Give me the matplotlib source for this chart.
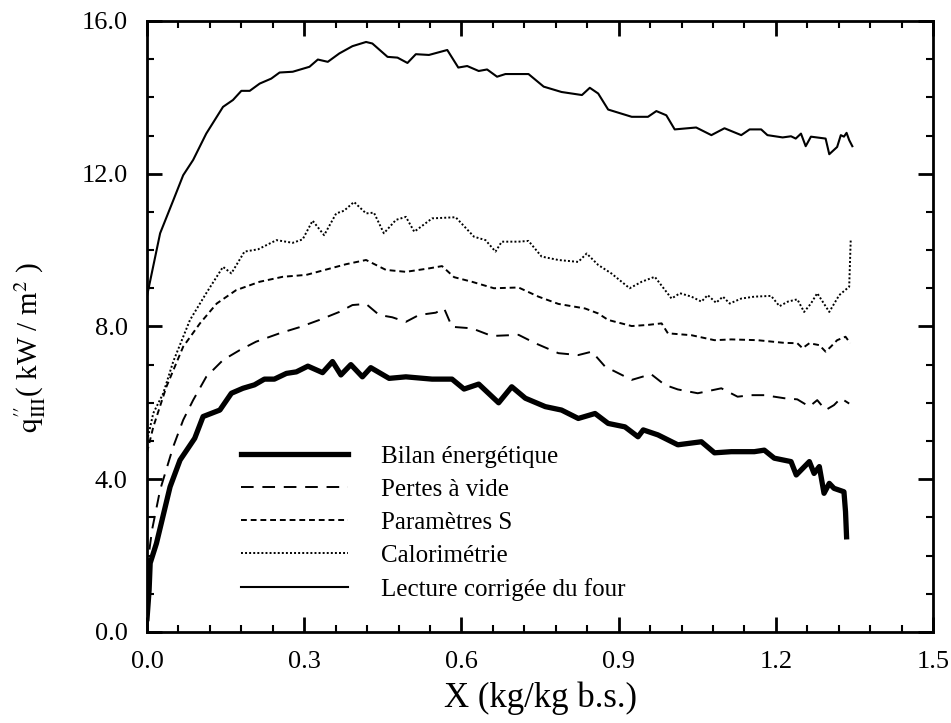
"""
plot.py

Flux de chaleur q''_III en fonction de la teneur en eau X,
comparaison de cinq méthodes d'estimation.
"""

import matplotlib
matplotlib.use("Agg")
import matplotlib.pyplot as plt
import matplotlib.ticker as ticker


# ─────────────────────────────────────────────
# Données
# ─────────────────────────────────────────────

bilan_x = [0.0, 0.004, 0.006, 0.018, 0.044, 0.063, 0.091, 0.107, 0.139, 0.161, 0.183,
           0.205, 0.224, 0.243, 0.266, 0.285, 0.307, 0.335, 0.354, 0.37, 0.389, 0.411,
           0.427, 0.462, 0.494, 0.544, 0.582, 0.605, 0.633, 0.671, 0.696, 0.722, 0.76,
           0.791, 0.823, 0.855, 0.88, 0.912, 0.937, 0.947, 0.975, 1.013, 1.058, 1.083,
           1.115, 1.159, 1.178, 1.197, 1.229, 1.239, 1.264, 1.273, 1.283, 1.292, 1.302,
           1.311, 1.33, 1.333, 1.335]
bilan_y = [0.35, 1.1, 1.8, 2.32, 3.8, 4.5, 5.07, 5.64, 5.81, 6.25, 6.38,
           6.47, 6.62, 6.62, 6.77, 6.81, 6.96, 6.79, 7.08, 6.73, 7.0, 6.68,
           6.92, 6.64, 6.68, 6.62, 6.62, 6.36, 6.49, 6.0, 6.42, 6.12, 5.9,
           5.81, 5.59, 5.72, 5.46, 5.37, 5.11, 5.29, 5.16, 4.9, 4.98, 4.69,
           4.72, 4.72, 4.76, 4.55, 4.46, 4.11, 4.46, 4.15, 4.33, 3.63, 3.89,
           3.76, 3.67, 3.15, 2.49]

pertes_x = [0.0, 0.005, 0.01, 0.025, 0.05, 0.069, 0.088, 0.113, 0.145, 0.177, 0.208,
            0.253, 0.291, 0.329, 0.367, 0.392, 0.418, 0.443, 0.468, 0.494, 0.519, 0.551,
            0.567, 0.582, 0.62, 0.658, 0.709, 0.741, 0.785, 0.823, 0.849, 0.874, 0.925,
            0.962, 0.988, 1.013, 1.051, 1.096, 1.127, 1.153, 1.178, 1.216, 1.241, 1.264,
            1.279, 1.295, 1.311, 1.324, 1.34]
pertes_y = [1.6, 2.2, 2.7, 3.72, 4.85, 5.55, 6.07, 6.68, 7.12, 7.38, 7.6,
            7.82, 7.98, 8.17, 8.38, 8.56, 8.59, 8.3, 8.24, 8.12, 8.3, 8.36,
            8.47, 7.99, 7.95, 7.75, 7.78, 7.56, 7.3, 7.25, 7.34, 6.95, 6.6,
            6.75, 6.47, 6.35, 6.25, 6.38, 6.16, 6.2, 6.2, 6.12, 6.09, 5.9,
            6.07, 5.81, 5.94, 6.12, 5.98]

param_x = [0.0, 0.012, 0.037, 0.069, 0.101, 0.133, 0.17, 0.215, 0.259, 0.304, 0.342,
           0.38, 0.418, 0.456, 0.494, 0.538, 0.563, 0.586, 0.62, 0.662, 0.709, 0.747,
           0.785, 0.836, 0.861, 0.88, 0.925, 0.956, 0.982, 0.994, 1.039, 1.083, 1.115,
           1.165, 1.216, 1.241, 1.251, 1.264, 1.283, 1.295, 1.305, 1.317, 1.333, 1.342]
param_y = [4.7, 5.37, 6.42, 7.47, 8.08, 8.6, 8.95, 9.17, 9.3, 9.35, 9.49,
           9.63, 9.74, 9.48, 9.43, 9.52, 9.58, 9.29, 9.17, 9.0, 9.02, 8.78,
           8.59, 8.47, 8.34, 8.17, 8.01, 8.04, 8.08, 7.82, 7.77, 7.64, 7.66,
           7.64, 7.57, 7.56, 7.43, 7.56, 7.51, 7.34, 7.47, 7.64, 7.73, 7.56]

calo_x = [0.0, 0.012, 0.031, 0.05, 0.082, 0.113, 0.145, 0.161, 0.186, 0.212, 0.247,
          0.278, 0.297, 0.316, 0.338, 0.361, 0.376, 0.395, 0.418, 0.433, 0.452, 0.475,
          0.494, 0.51, 0.544, 0.589, 0.624, 0.646, 0.665, 0.677, 0.709, 0.728, 0.753,
          0.785, 0.823, 0.839, 0.861, 0.886, 0.921, 0.944, 0.969, 1.001, 1.017, 1.039,
          1.058, 1.07, 1.086, 1.099, 1.112, 1.134, 1.159, 1.191, 1.207, 1.223, 1.241,
          1.254, 1.267, 1.279, 1.302, 1.321, 1.34, 1.343]
calo_y = [5.0, 5.73, 6.25, 7.08, 8.17, 8.87, 9.56, 9.39, 9.96, 10.02, 10.26,
          10.19, 10.28, 10.77, 10.39, 10.96, 11.03, 11.26, 10.96, 10.98, 10.44, 10.79,
          10.87, 10.48, 10.83, 10.86, 10.35, 10.26, 9.96, 10.22, 10.22, 10.24, 9.83,
          9.74, 9.69, 9.91, 9.61, 9.39, 9.0, 9.17, 9.3, 8.73, 8.87, 8.78,
          8.65, 8.82, 8.62, 8.78, 8.6, 8.73, 8.78, 8.8, 8.53, 8.65, 8.71,
          8.38, 8.6, 8.87, 8.38, 8.82, 9.04, 10.3]

lecture_x = [0.0, 0.025, 0.05, 0.069, 0.088, 0.113, 0.145, 0.164, 0.18, 0.196, 0.215,
             0.237, 0.253, 0.278, 0.31, 0.326, 0.345, 0.367, 0.392, 0.418, 0.43, 0.459,
             0.478, 0.497, 0.513, 0.538, 0.573, 0.594, 0.611, 0.633, 0.649, 0.668, 0.684,
             0.709, 0.728, 0.757, 0.791, 0.83, 0.845, 0.861, 0.88, 0.925, 0.956, 0.972,
             0.991, 1.007, 1.048, 1.077, 1.102, 1.134, 1.15, 1.172, 1.184, 1.213, 1.229,
             1.238, 1.248, 1.257, 1.267, 1.295, 1.302, 1.317, 1.324, 1.33, 1.335, 1.34,
             1.346]
lecture_y = [8.8, 10.44, 11.3, 11.96, 12.36, 13.05, 13.75, 13.93, 14.17, 14.17, 14.36,
             14.49, 14.65, 14.67, 14.8, 14.99, 14.93, 15.15, 15.34, 15.45, 15.41, 15.06,
             15.04, 14.9, 15.13, 15.11, 15.24, 14.78, 14.82, 14.69, 14.73, 14.54, 14.61,
             14.61, 14.61, 14.28, 14.14, 14.06, 14.25, 14.1, 13.68, 13.49, 13.49, 13.64,
             13.53, 13.16, 13.21, 13.01, 13.19, 13.01, 13.16, 13.16, 13.01, 12.95, 12.98,
             12.92, 13.05, 12.72, 12.97, 12.92, 12.51, 12.7, 13.01, 12.97, 13.07, 12.88,
             12.72]

labels = ["Bilan énergétique", "Pertes à vide", "Paramètres S",
          "Calorimétrie", "Lecture corrigée du four"]


# ─────────────────────────────────────────────
# Style
# ─────────────────────────────────────────────

PLOT_STYLE = {
    "font.family": "Liberation Serif",
    "mathtext.fontset": "stix",
    "axes.linewidth": 2.0,
    "xtick.direction": "in",
    "ytick.direction": "in",
}

with plt.rc_context(PLOT_STYLE):
    fig = plt.figure(figsize=(9.51, 7.23), dpi=100)
    ax = fig.add_axes([0.1546, 0.126, 0.8265, 0.845])

    ax.plot(bilan_x, bilan_y, color="black", linewidth=3.8, label=labels[0])
    ax.plot(pertes_x, pertes_y, color="black", linewidth=1.4,
            linestyle=(0, (6.5, 4.5)), label=labels[1])
    ax.plot(param_x, param_y, color="black", linewidth=1.4,
            linestyle=(0, (3, 2)), label=labels[2])
    ax.plot(calo_x, calo_y, color="black", linewidth=1.4,
            linestyle=(0, (1, 1.1)), label=labels[3])
    ax.plot(lecture_x, lecture_y, color="black", linewidth=1.5, label=labels[4])

    ax.set_xlim(0, 1.5)
    ax.set_ylim(0, 16)
    ax.xaxis.set_major_locator(ticker.MultipleLocator(0.3))
    ax.xaxis.set_minor_locator(ticker.MultipleLocator(0.06))
    ax.yaxis.set_major_locator(ticker.MultipleLocator(4.0))
    ax.yaxis.set_minor_locator(ticker.MultipleLocator(1.0))
    ax.xaxis.set_major_formatter(ticker.FormatStrFormatter("%.1f"))
    ax.yaxis.set_major_formatter(ticker.FormatStrFormatter("%.1f"))

    ax.tick_params(which="both", top=True, right=True, labelsize=19)
    ax.tick_params(which="major", length=11, width=2, pad=14)
    ax.tick_params(which="minor", length=5, width=1.5)

    ax.set_xlabel("X (kg/kg b.s.)", fontsize=25, labelpad=6)
    ax.set_ylabel(r"$\mathrm{q}^{\prime\prime}_{\mathrm{III}}$( kW / m$^{2}$ )", fontsize=21)
    ax.yaxis.set_label_coords(-0.126, 0.466)

    ax.legend(loc="center left", bbox_to_anchor=(0.12, 0.178), frameon=False,
              fontsize=18, handlelength=4.25, handletextpad=1.35,
              labelspacing=0.42, borderpad=0, borderaxespad=0)

    fig.savefig("out.png", dpi=100)
